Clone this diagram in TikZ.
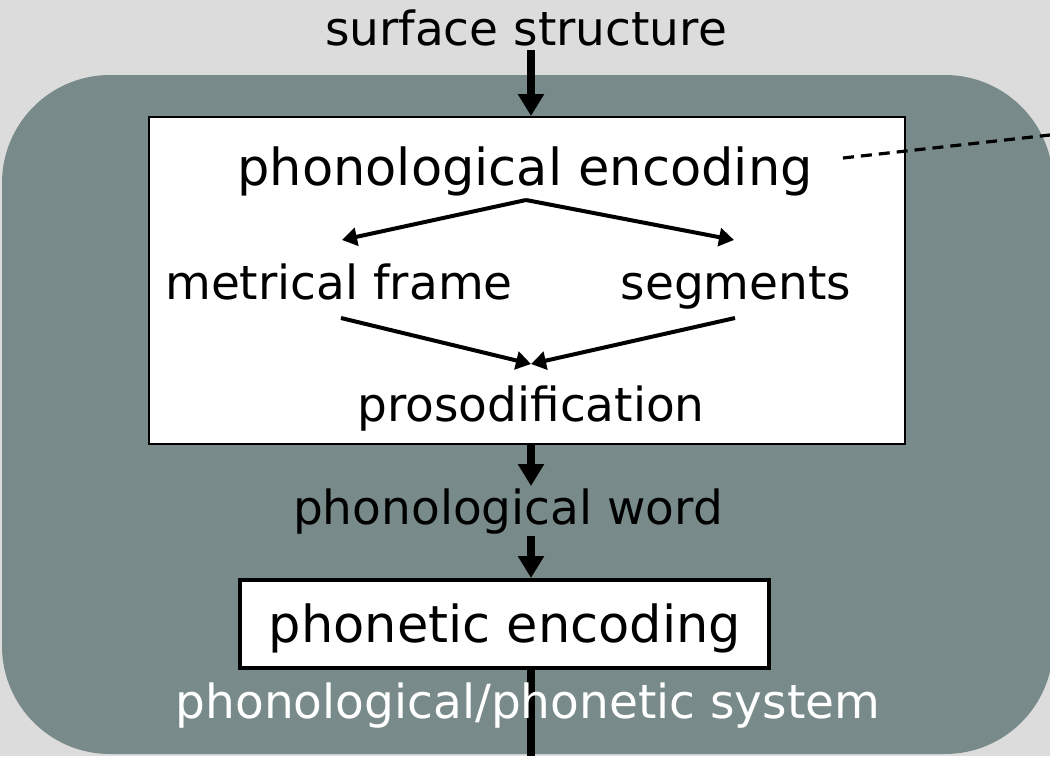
\documentclass[tikz,border=0pt]{standalone}
\usepackage{fontspec}
\setmainfont{DejaVu Sans}
\usetikzlibrary{arrows.meta}
\definecolor{bgl}{HTML}{DCDCDC}
\definecolor{sysc}{HTML}{788A89}
\begin{document}
\begin{tikzpicture}[x=1pt,y=-1pt,
  txt/.style={inner sep=0pt, anchor=base, font=\fontsize{47}{56}\selectfont},
  bigtxt/.style={inner sep=0pt, anchor=base, font=\fontsize{51}{60}\selectfont},
  wbox/.style={draw=black, fill=white, line width=2.4pt, inner sep=0pt, anchor=north west},
  thickarr/.style={line width=8pt, -{Triangle[length=22pt,width=25pt]}},
  thinarr/.style={line width=4pt, -{Triangle[length=15pt,width=18pt]}},
  stem/.style={line width=8pt}]
\useasboundingbox (0,0) rectangle (1050,756);
\fill[bgl] (0,0) rectangle (1050,756);
\fill[sysc, rounded corners=108pt] (2,75) rectangle (1053,754);
% boxes
\node[wbox, minimum width=756pt, minimum height=327pt] (b1) at (148,116) {};
\node[wbox, line width=4pt, minimum width=529pt, minimum height=88pt] (b2) at (238,578) {};
% texts
\node[txt] (ss) at (526,45) {surface structure};
\node[bigtxt] (pe) at (525,185) {phonological encoding};
\node[txt] (mf) at (339,299) {metrical frame};
\node[txt] (sg) at (736,299) {segments};
\node[txt] (pr) at (531,421) {prosodification};
\node[txt] (pw) at (508,524) {phonological word};
\node[bigtxt] (ph) at (505,642) {phonetic encoding};
% coordinates
\coordinate (c1) at (531,50);
\coordinate (c2) at (526,200);
\coordinate (c3) at (342,240);
\coordinate (c4) at (734,240);
\coordinate (c5) at (341,318);
\coordinate (c6) at (735,318);
\coordinate (c7) at (531,364);
\coordinate (c8) at (531,444);
\coordinate (c9) at (531,486);
\coordinate (c10) at (531,536);
\coordinate (c11) at (531,756);
\coordinate (d1) at (843,158);
\coordinate (d2) at (1050,135);
% connectors
\draw[thickarr] (c1) -- (c1 |- b1.north);
\draw[thinarr] (c2) -- (c3);
\draw[thinarr] (c2) -- (c4);
\draw[thinarr] (c5) -- (c7);
\draw[thinarr] (c6) -- (c7);
\draw[thickarr] (c8) -- (c9);
\draw[thickarr] (c10) -- (c10 |- b2.north);
\draw[stem] (c10 |- b2.south) -- (c11);
\draw[line width=3.2pt, dash pattern=on 11pt off 7pt] (d1) -- (d2);
\node[txt, text=white] (sys) at (528,718) {phonological/phonetic system};
\end{tikzpicture}
\end{document}
